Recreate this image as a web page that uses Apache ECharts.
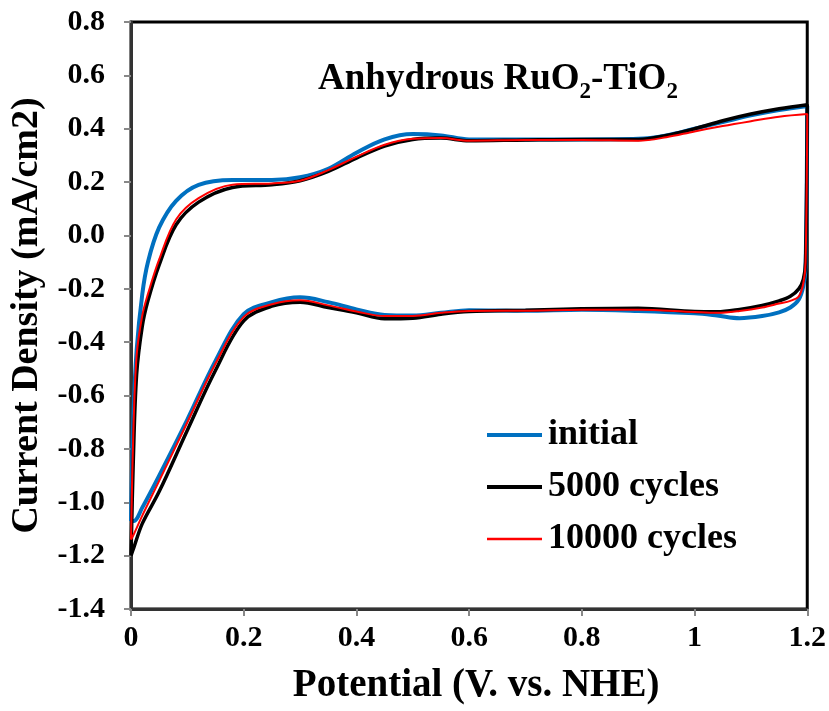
<!DOCTYPE html>
<html>
<head>
<meta charset="utf-8">
<script src="https://cdn.jsdelivr.net/npm/echarts@6/dist/echarts.min.js"></script>
<style>html,body{margin:0;padding:0;background:#fff}#c{width:829px;height:711px}</style>
</head>
<body>
<div id="c"></div>
<script>
// Anodic (upper) branch potentials, V vs NHE
const topX = [0, 0.004, 0.01, 0.02, 0.03, 0.05, 0.08, 0.12, 0.18, 0.25, 0.3, 0.35, 0.4, 0.45, 0.5, 0.55, 0.6, 0.7, 0.8, 0.9, 0.95, 1.0, 1.05, 1.1, 1.15, 1.2];
const initialTop = [-1.07, -0.69, -0.43, -0.22, -0.10, 0.03, 0.13, 0.19, 0.208, 0.208, 0.218, 0.25, 0.31, 0.36, 0.38, 0.375, 0.36, 0.36, 0.36, 0.362, 0.375, 0.40, 0.425, 0.45, 0.47, 0.485];
const c5000Top = [-1.20, -0.85, -0.52, -0.34, -0.245, -0.11, 0.04, 0.125, 0.18, 0.19, 0.205, 0.24, 0.29, 0.335, 0.36, 0.365, 0.355, 0.358, 0.36, 0.36, 0.375, 0.40, 0.43, 0.455, 0.475, 0.49];
const c10000Top = [-1.14, -0.75, -0.45, -0.30, -0.22, -0.09, 0.06, 0.14, 0.19, 0.195, 0.205, 0.245, 0.295, 0.34, 0.362, 0.365, 0.355, 0.358, 0.358, 0.355, 0.368, 0.39, 0.41, 0.428, 0.445, 0.455];
// Cathodic (lower) branch potentials
const botX = [1.197, 1.193, 1.185, 1.17, 1.15, 1.12, 1.08, 1.04, 1.0, 0.9, 0.8, 0.7, 0.6, 0.55, 0.5, 0.45, 0.4, 0.35, 0.3, 0.25, 0.2, 0.15, 0.1, 0.05, 0.02, 0.005, 0];
const initialBot = [-0.12, -0.19, -0.24, -0.27, -0.288, -0.302, -0.31, -0.30, -0.292, -0.283, -0.278, -0.282, -0.28, -0.29, -0.30, -0.298, -0.277, -0.25, -0.232, -0.25, -0.295, -0.47, -0.69, -0.90, -1.02, -1.07, -1.07];
const c5000Bot = [-0.10, -0.165, -0.2, -0.228, -0.245, -0.262, -0.277, -0.286, -0.285, -0.273, -0.275, -0.28, -0.285, -0.295, -0.31, -0.312, -0.29, -0.27, -0.25, -0.265, -0.32, -0.505, -0.73, -0.96, -1.08, -1.17, -1.20];
const c10000Bot = [-0.10, -0.18, -0.228, -0.245, -0.255, -0.27, -0.283, -0.29, -0.287, -0.278, -0.278, -0.282, -0.283, -0.29, -0.302, -0.302, -0.285, -0.262, -0.243, -0.258, -0.305, -0.48, -0.70, -0.92, -1.05, -1.12, -1.14];

const seriesNames = ['initial', '5000 cycles', '10000 cycles'];
const xTicks = [0, 0.2, 0.4, 0.6, 0.8, 1, 1.2];
const yTicks = [-1.4, -1.2, -1.0, -0.8, -0.6, -0.4, -0.2, 0.0, 0.2, 0.4, 0.6, 0.8];

function loop(topY, botY) {
  const pts = [];
  topX.forEach((x, i) => pts.push([x, topY[i]]));
  botX.forEach((x, i) => pts.push([x, botY[i]]));
  return pts;
}

const FONT = '"Liberation Serif", "Times New Roman", serif';
const chart = echarts.init(document.getElementById('c'), null, {renderer: 'canvas'});
const colors = ['#0070C0', '#000000', '#FF0000'];
const widths = [4, 3.5, 2];
const legendIcons = ['path://M0,0H55V4H0Z', 'path://M0,0H55V4H0Z', 'path://M0,0H55V2.5H0Z'];
const datas = [loop(initialTop, initialBot), loop(c5000Top, c5000Bot), loop(c10000Top, c10000Bot)];

chart.setOption({
  animation: false,
  backgroundColor: '#fff',
  grid: {left: 131, right: 20, top: 22, bottom: 102, show: true, borderColor: '#000', borderWidth: 3, backgroundColor: 'transparent'},
  title: {
    left: 313, top: 49,
    text: '{a|Anhydrous RuO}{s|2}{a|-TiO}{s|2}',
    textStyle: {
      rich: {
        a: {fontFamily: FONT, fontWeight: 'bold', fontSize: 37, color: '#000', lineHeight: 44, verticalAlign: 'bottom'},
        s: {fontFamily: FONT, fontWeight: 'bold', fontSize: 23, color: '#000', lineHeight: 44, verticalAlign: 'bottom', padding: [0, 0, -6, 0]}
      }
    }
  },
  legend: {
    orient: 'vertical', left: 487, top: 415, padding: 0,
    itemWidth: 55, itemHeight: 14, itemGap: 12,
    data: seriesNames.map((n, i) => ({name: n, icon: legendIcons[i]})),
    textStyle: {fontFamily: FONT, fontWeight: 'bold', fontSize: 36, color: '#000', lineHeight: 40, padding: [0, 0, 0, 1]}
  },
  xAxis: {
    type: 'value', min: 0, max: 1.2, interval: 0.2,
    name: 'Potential (V. vs. NHE)', nameLocation: 'middle', nameGap: 57,
    nameTextStyle: {fontFamily: FONT, fontWeight: 'bold', fontSize: 39, color: '#000', padding: [0, 0, 0, 14]},
    axisLine: {show: true, onZero: false, lineStyle: {color: '#333', width: 3}},
    axisTick: {show: true, length: 7, lineStyle: {color: '#888', width: 2}},
    axisLabel: {fontFamily: FONT, fontWeight: 'bold', fontSize: 30, color: '#000', margin: 14,
      formatter: v => String(xTicks.find(t => Math.abs(t - v) < 1e-6) ?? v)},
    splitLine: {show: false}
  },
  yAxis: {
    type: 'value', min: -1.4, max: 0.8, interval: 0.2,
    name: 'Current Density (mA/cm2)', nameLocation: 'middle', nameGap: 76,
    nameTextStyle: {fontFamily: FONT, fontWeight: 'bold', fontSize: 38, color: '#000'},
    axisLine: {show: true, onZero: false, lineStyle: {color: '#333', width: 3}},
    axisTick: {show: true, length: 7, lineStyle: {color: '#888', width: 2}},
    axisLabel: {fontFamily: FONT, fontWeight: 'bold', fontSize: 30, color: '#000', margin: 26,
      formatter: v => {
        const t = yTicks.find(t => Math.abs(t - v) < 1e-6);
        return (t === undefined ? v : t).toFixed(1);
      }},
    splitLine: {show: false}
  },
  series: seriesNames.map((n, i) => ({
    name: n, type: 'line', data: datas[i], symbol: 'none', showSymbol: false,
    smooth: 0.35, clip: true,
    color: colors[i],
    lineStyle: {color: colors[i], width: widths[i]},
    z: 2 + i
  }))
});
</script>
</body>
</html>
